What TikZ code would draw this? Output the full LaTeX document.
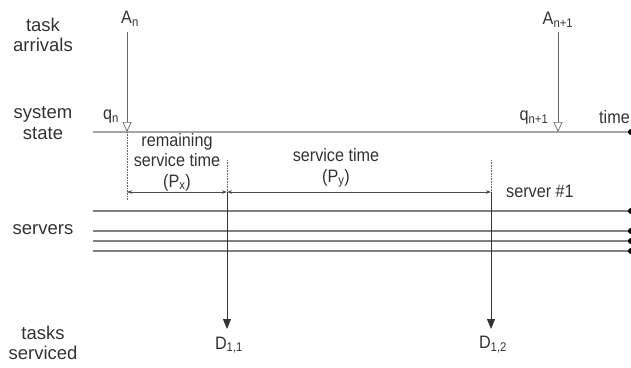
\documentclass[tikz,border=0pt]{standalone}
\usepackage{fontspec}
\setmainfont{Liberation Sans}
\newfontfamily\narrowsans{Liberation Sans}[FakeStretch=0.9]
\usetikzlibrary{arrows.meta}
\begin{document}
\begin{tikzpicture}[x=1pt,y=-1pt,
  rowcaption/.style={font=\fontsize{18.5}{20.5}\selectfont, text=black!80, inner sep=0pt, align=center},
  lbl/.style={font=\narrowsans\fontsize{18}{20.5}\selectfont, text=black!80, inner sep=0pt, align=center},
  axis/.style={draw=black!35, line width=1.8pt},
  srv/.style={draw=black!50, line width=1.3pt},
  arrive/.style={draw=black!60, line width=0.7pt, -{Triangle[open,length=10pt,width=9pt]}},
  depart/.style={draw=black!80, line width=0.8pt, -{Triangle[length=10pt,width=8pt]}},
  guide/.style={draw=black!60, line width=0.6pt, densely dotted},
  dimline/.style={draw=black!70, line width=0.6pt,
    {Stealth[length=5pt,width=3.5pt]}-{Stealth[length=5pt,width=3.5pt]}},
  enddot/.style={fill=black, draw=none},
]
\useasboundingbox (0,0) rectangle (631,367);

% row captions
\node[rowcaption] (capA) at (43,35)  {task\\arrivals};
\node[rowcaption] (capS) at (43,123) {system\\state};
\node[rowcaption] (capV) at (43,230) {servers};
\node[rowcaption] (capT) at (43,343) {tasks\\serviced};

% time axis of the system state
\coordinate (s0) at (93,132);
\coordinate (s1) at (631,132);
\draw[axis] (s0) -- (s1);
\fill[enddot] (s1) circle (3);
\node[lbl, anchor=east] (time) at (630,117) {time};

% server lines
\foreach \y/\n in {211/1,231/2,241/3,251/4}{
  \coordinate (v\n a) at (93,\y);
  \coordinate (v\n b) at (631,\y);
  \draw[srv] (v\n a) -- (v\n b);
  \fill[enddot] (v\n b) circle (3);
}

% arrivals
\coordinate (qn) at (127,132);
\coordinate (qm) at (558,132);
\node[lbl] (an) at (130,19) {A\textsubscript{n}};
\node[lbl] (am) at (558,20) {A\textsubscript{n+1}};
\draw[arrive] (qn |- 0,32) -- (qn);
\draw[arrive] (qm |- 0,32) -- (qm);
\node[lbl] (qnl) at (111,117) {q\textsubscript{n}};
\node[lbl] (qml) at (534,118) {q\textsubscript{n+1}};

% departure markers
\coordinate (d1) at (227,192);
\coordinate (d2) at (491,192);
\coordinate (d1t) at (227,329);
\coordinate (d2t) at (491,329);
\coordinate (x0) at (127,192);
\draw[guide] (qn) -- (127,200);
\draw[guide] (227,160) -- (d1);
\draw[guide] (491,160) -- (d2);
\draw[depart] (d1) -- (d1t);
\draw[depart] (d2) -- (d2t);
\node[lbl] (dl1) at (229,345) {D\textsubscript{1,1}};
\node[lbl] (dl2) at (493,345) {D\textsubscript{1,2}};

% service time dimensions
\draw[dimline] (x0) -- (d1);
\draw[dimline] (d1) -- (d2);
\node[lbl] (px) at (177,162) {remaining\\service time\\(P\textsubscript{x})};
\node[lbl] (py) at (336,168) {service time\\(P\textsubscript{y})};
\node[lbl] (srv1) at (540,191) {server \#1};
\end{tikzpicture}
\end{document}
